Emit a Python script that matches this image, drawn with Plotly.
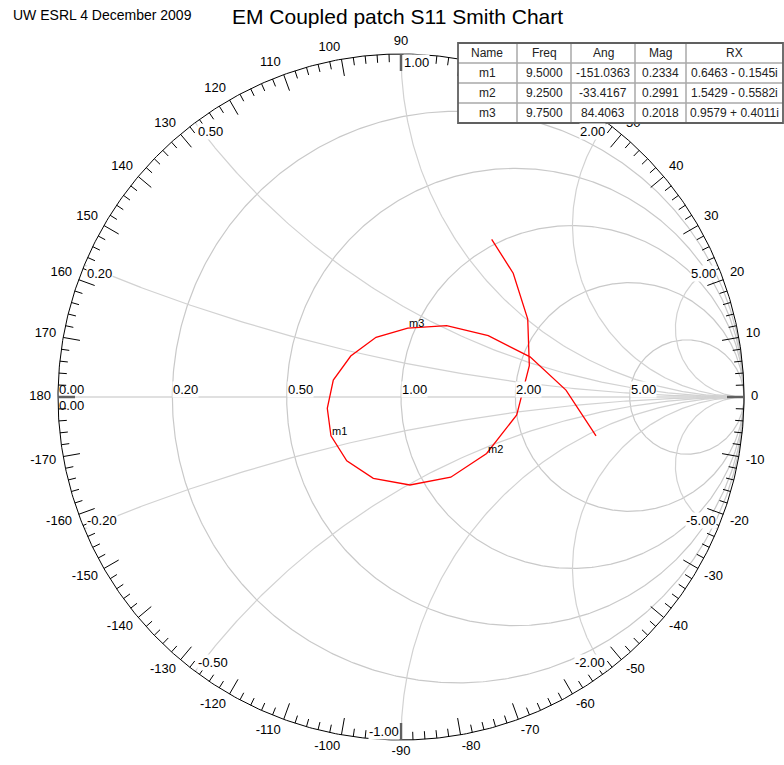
import numpy as np
import plotly.graph_objects as go

FONT = "Arial, Liberation Sans, sans-serif"

# ---- S11 sweep, 9.0 - 10.0 GHz (magnitude, angle in degrees) ----
freq_ghz = [9.00, 9.05, 9.10, 9.15, 9.20, 9.25, 9.30, 9.35, 9.40, 9.45, 9.50,
            9.55, 9.60, 9.65, 9.70, 9.75, 9.80, 9.85, 9.90, 9.95, 10.00]
s11_mag = [0.5304, 0.4870, 0.4338, 0.3851, 0.3414, 0.2991, 0.2753, 0.2579, 0.2504, 0.2440, 0.2334,
           0.2174, 0.2035, 0.1891, 0.1887, 0.2018, 0.2469, 0.3110, 0.3940, 0.4814, 0.5798]
s11_ang_deg = [60.1, 47.8, 31.6, 13.7, -8.8, -33.4167, -58.2, -84.2, -108.8, -130.4, -151.0363,
               -171.3, 165.9, 140.8, 112.7, 84.4063, 57.4, 35.1, 17.3, 2.4, -11.3]

# ---- markers ----
marker_names = ["m1", "m2", "m3"]
marker_freq = [9.5000, 9.2500, 9.7500]
marker_ang = [-151.0363, -33.4167, 84.4063]
marker_mag = [0.2334, 0.2991, 0.2018]
marker_r = [0.6463, 1.5429, 0.9579]
marker_x = [-0.1545, -0.5582, 0.4011]
table_header = ["Name", "Freq", "Ang", "Mag", "RX"]

# ---- Smith grid ----
r_grid = [0.2, 0.5, 1.0, 2.0, 5.0]
x_grid = [0.2, 0.5, 1.0, 2.0, 5.0]
r_label_text = ["0.20", "0.50", "1.00", "2.00", "5.00"]
x_label_text = ["0.20", "0.50", "1.00", "2.00", "5.00"]
# rim angle labels (60-80 sit fully under the marker table and are left out)
angle_labels = [-170, -160, -150, -140, -130, -120, -110, -100, -90, -80, -70, -60,
                -50, -40, -30, -20, -10, 0, 10, 20, 30, 40, 50,
                90, 100, 110, 120, 130, 140, 150, 160, 170, 180]

# ---- page geometry (pixels) ----
W, H = 784, 765
CX, CY, RPX = 401, 397, 343
PX = 1.0 / RPX
x_range = [(0 - CX) / RPX, (W - CX) / RPX]
y_range = [(CY - H) / RPX, CY / RPX]


def paper_x(xp):
    return xp / W


def paper_y(yp):
    return 1 - yp / H


def text_width(s, size):
    w = 0.0
    for ch in s:
        if ch.isdigit():
            w += 0.556
        elif ch == "-":
            w += 0.333
        elif ch == ".":
            w += 0.278
        else:
            w += 0.6
    return w * size


def gamma(mag, ang):
    a = np.radians(np.asarray(ang, dtype=float))
    m = np.asarray(mag, dtype=float)
    return m * np.cos(a), m * np.sin(a)


fig = go.Figure()

GRID_R = "#c9c9c9"
GRID_X = "#d2d2d2"

# real axis
fig.add_trace(go.Scatter(x=[-1, 1], y=[0, 0], mode="lines",
                         line=dict(color="#e0e0e0", width=2)))

# constant resistance circles
t = np.linspace(0, 2 * np.pi, 721)
for r in r_grid:
    c, rad = r / (1 + r), 1 / (1 + r)
    fig.add_trace(go.Scatter(x=c + rad * np.cos(t), y=rad * np.sin(t), mode="lines",
                             line=dict(color=GRID_R, width=1.2)))

# constant reactance arcs
rr = np.concatenate([[0.0], np.geomspace(1e-3, 1e4, 600)])
for xv in x_grid:
    for sgn in (1, -1):
        z = rr + 1j * sgn * xv
        g = (z - 1) / (z + 1)
        gx = np.append(g.real, 1.0)
        gy = np.append(g.imag, 0.0)
        fig.add_trace(go.Scatter(x=gx, y=gy, mode="lines",
                                 line=dict(color=GRID_X, width=1.2)))

# outer circle
fig.add_trace(go.Scatter(x=np.cos(t), y=np.sin(t), mode="lines",
                         line=dict(color="black", width=1)))

# angle ticks every 2 degrees, long every 10
tx, ty, sx, sy = [], [], [], []
for a in range(-178, 182, 2):
    th = np.radians(a)
    if a in (0, 90, 180, -90):
        L = 17 * PX
        sx += [np.cos(th), (1 - L) * np.cos(th), None]
        sy += [np.sin(th), (1 - L) * np.sin(th), None]
        continue
    L = (17 if a % 10 == 0 else 8) * PX
    tx += [np.cos(th), (1 - L) * np.cos(th), None]
    ty += [np.sin(th), (1 - L) * np.sin(th), None]
fig.add_trace(go.Scatter(x=tx, y=ty, mode="lines", line=dict(color="black", width=1)))
fig.add_trace(go.Scatter(x=sx, y=sy, mode="lines", line=dict(color="#606060", width=2.5)))

# angle labels
lx, ly, lt = [], [], []
for a in angle_labels:
    s = str(a)
    th = np.radians(a)
    r0 = 1 + 7 * PX
    px_, py_ = r0 * np.cos(th), r0 * np.sin(th)
    hw = text_width(s, 13) / 2 * PX
    hh = 5 * PX * min(1.0, abs(np.sin(th)) * 3)
    if a == 0:
        dx, dy = hw, 0
    elif a == 180:
        dx, dy = -hw, 0
    elif a == 90:
        dx, dy = 0, 5 * PX
    elif a == -90:
        dx, dy = 0, -5 * PX
    elif 0 < a < 90:
        dx, dy = hw, hh
    elif 90 < a < 180:
        dx, dy = -hw, hh
    elif -90 < a < 0:
        dx, dy = hw, -hh
    else:
        dx, dy = -hw, -hh
    lx.append(px_ + dx)
    ly.append(py_ + dy)
    lt.append(s)
fig.add_trace(go.Scatter(x=lx, y=ly, mode="text", text=lt, textposition="middle center",
                         textfont=dict(family=FONT, size=13, color="black")))

# S11 trace
gx, gy = gamma(s11_mag, s11_ang_deg)
fig.add_trace(go.Scatter(x=gx, y=gy, mode="lines", line=dict(color="#ff0000", width=1.3)))

annotations = []

# grid labels on the real axis
for lab, r in zip(r_label_text, r_grid):
    annotations.append(dict(x=(r - 1) / (r + 1), y=0, xref="x", yref="y", text=lab,
                            showarrow=False, xanchor="left", yanchor="bottom", yshift=-1,
                            bgcolor="white", borderpad=0,
                            font=dict(family=FONT, size=13, color="black")))
for yanc in ("bottom", "top"):
    annotations.append(dict(x=-1, y=0, xref="x", yref="y", text="0.00", showarrow=False,
                            xanchor="left", yanchor=yanc, yshift=-1 if yanc == "bottom" else 0,
                            borderpad=0, font=dict(family=FONT, size=13, color="black")))

# reactance labels on the rim
for lab, xv in zip(x_label_text, x_grid):
    for sgn in (1, -1):
        z = 1j * sgn * xv
        g = (z - 1) / (z + 1)
        if sgn > 0:
            xanc = "left" if xv <= 1 else "right"
            yanc = "top"
            text = lab
        else:
            xanc = "left" if xv < 1 else "right"
            yanc = "bottom"
            text = "-" + lab
        annotations.append(dict(x=g.real, y=g.imag, xref="x", yref="y", text=text,
                                showarrow=False, xanchor=xanc, yanchor=yanc,
                                xshift=2 if xanc == "left" else -1,
                                bgcolor="white", borderpad=0,
                                font=dict(family=FONT, size=13, color="black")))

# marker labels
mx, my = gamma(marker_mag, marker_ang)
for name, x0, y0 in zip(marker_names, mx, my):
    annotations.append(dict(x=x0, y=y0, xref="x", yref="y", text=name, showarrow=False,
                            xanchor="left", yanchor="middle", yshift=5, xshift=-1,
                            font=dict(family=FONT, size=11, color="black")))

# titles
annotations.append(dict(x=paper_x(397), y=paper_y(16), xref="paper", yref="paper",
                        text="EM Coupled patch S11 Smith Chart", showarrow=False,
                        xanchor="center", yanchor="middle",
                        font=dict(family=FONT, size=21, color="black")))
annotations.append(dict(x=paper_x(11), y=paper_y(15), xref="paper", yref="paper",
                        text="UW ESRL 4 December 2009", showarrow=False,
                        xanchor="left", yanchor="middle",
                        font=dict(family=FONT, size=14, color="black")))

# marker table
col_edges = [458, 517, 571, 635, 686, 783]
row_edges = [43, 63, 83, 103, 123]
rows = [table_header]
for n, f, a, m, r, x in zip(marker_names, marker_freq, marker_ang, marker_mag, marker_r, marker_x):
    rx = f"{r:.4f} {'+' if x >= 0 else '-'} {abs(x):.4f}i"
    rows.append([n, f"{f:.4f}", f"{a:.4f}", f"{m:.4f}", rx])

shapes = [dict(type="rect", xref="paper", yref="paper", layer="above",
               x0=paper_x(col_edges[0]), x1=paper_x(col_edges[-1]),
               y0=paper_y(row_edges[-1]), y1=paper_y(row_edges[0]),
               fillcolor="white", line=dict(width=0))]
for xe in col_edges[1:-1]:
    shapes.append(dict(type="line", xref="paper", yref="paper", layer="above",
                       x0=paper_x(xe), x1=paper_x(xe),
                       y0=paper_y(row_edges[-1]), y1=paper_y(row_edges[0]),
                       line=dict(color="#a8a8a8", width=1.5)))
for ye in row_edges[1:-1]:
    shapes.append(dict(type="line", xref="paper", yref="paper", layer="above",
                       x0=paper_x(col_edges[0]), x1=paper_x(col_edges[-1]),
                       y0=paper_y(ye), y1=paper_y(ye),
                       line=dict(color="#a8a8a8", width=1.5)))
shapes.append(dict(type="rect", xref="paper", yref="paper", layer="above",
                   x0=paper_x(col_edges[0]), x1=paper_x(col_edges[-1]),
                   y0=paper_y(row_edges[-1]), y1=paper_y(row_edges[0]),
                   line=dict(color="#606060", width=1.8)))

for i, row in enumerate(rows):
    yc = (row_edges[i] + row_edges[i + 1]) / 2
    for j, cell in enumerate(row):
        xc = (col_edges[j] + col_edges[j + 1]) / 2
        annotations.append(dict(x=paper_x(xc), y=paper_y(yc), xref="paper", yref="paper",
                                text=cell, showarrow=False, xanchor="center", yanchor="middle",
                                font=dict(family=FONT, size=12, color="#222222")))

fig.update_layout(
    width=W, height=H, autosize=False,
    margin=dict(l=0, r=0, t=0, b=0),
    paper_bgcolor="white", plot_bgcolor="white",
    showlegend=False, hovermode=False,
    xaxis=dict(range=x_range, visible=False, fixedrange=True),
    yaxis=dict(range=y_range, visible=False, fixedrange=True),
    annotations=annotations, shapes=shapes,
)

fig.write_html("out.html", config={"displayModeBar": False})
